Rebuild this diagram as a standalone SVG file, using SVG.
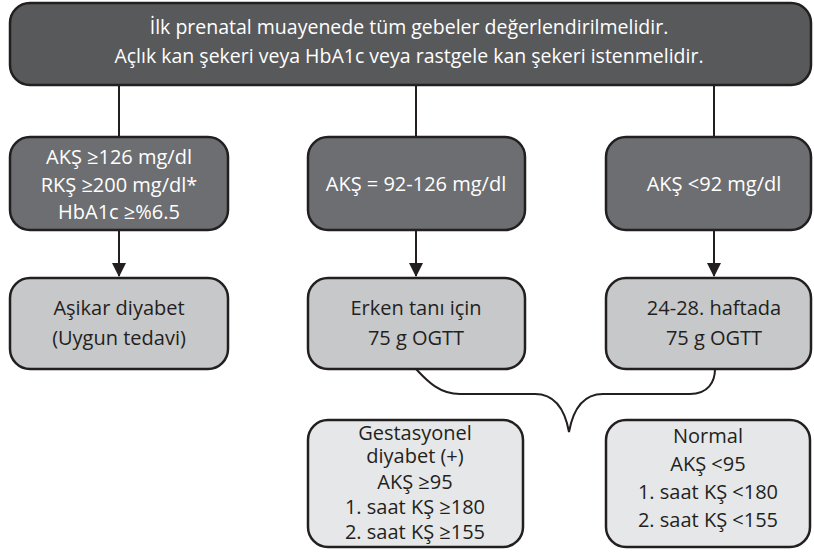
<svg xmlns="http://www.w3.org/2000/svg" width="814" height="560" viewBox="0 0 814 560">
<defs>
<style>
.box{stroke:#231f20;stroke-width:2.5}
.top{fill:#58595b}
.dark{fill:#6d6e71}
.mid{fill:#c7c8ca}
.light{fill:#e6e7e8}
text{font-family:"Open Sans","Noto Sans","Liberation Sans",sans-serif;font-size:20px;text-anchor:middle}
.t{font-size:19.5px}
.w{fill:#ffffff}
.b{fill:#231f20}
.ln{stroke:#231f20;stroke-width:2;fill:none}
</style>
<marker id="ah" viewBox="0 0 14 14" refX="13" refY="7" markerWidth="14" markerHeight="14" markerUnits="userSpaceOnUse" orient="auto">
<path d="M0,0 L14,7 L0,14 Z" fill="#231f20"/>
</marker>
</defs>
<rect width="814" height="560" fill="#ffffff"/>
<g id="connectors">
<line class="ln" x1="119" y1="85" x2="119" y2="137"/>
<line class="ln" x1="416" y1="85" x2="416" y2="137"/>
<line class="ln" x1="714" y1="85" x2="714" y2="137"/>
<line class="ln" x1="119" y1="230" x2="119" y2="276" marker-end="url(#ah)"/>
<line class="ln" x1="416" y1="230" x2="416" y2="276" marker-end="url(#ah)"/>
<line class="ln" x1="714" y1="230" x2="714" y2="276" marker-end="url(#ah)"/>
<path class="ln" stroke-width="2.5" d="M416,369 C428,382 440,394 460,394 L535,394 C555,394 565,410 569,432 C573,410 583,394 603,394 L690,394 C708,394 715,382 715,369"/>
</g>
<g id="n-top">
<rect class="box top" x="10" y="3" width="801" height="82" rx="20"/>
<text class="w t" x="409" y="34">İlk prenatal muayenede tüm gebeler değerlendirilmelidir.</text>
<text class="w t" x="409" y="63">Açlık kan şekeri veya HbA1c veya rastgele kan şekeri istenmelidir.</text>
</g>
<g id="n-aks126">
<rect class="box dark" x="10" y="137" width="218" height="93" rx="20"/>
<text class="w" x="119" y="164">AKŞ ≥126 mg/dl</text>
<text class="w" x="119" y="192">RKŞ ≥200 mg/dl*</text>
<text class="w" x="119" y="219">HbA1c ≥%6.5</text>
</g>
<g id="n-aks92126">
<rect class="box dark" x="308" y="137" width="217" height="93" rx="20"/>
<text class="w" x="416" y="191">AKŞ = 92-126 mg/dl</text>
</g>
<g id="n-aks92">
<rect class="box dark" x="606" y="137" width="205" height="93" rx="20"/>
<text class="w" x="714" y="191">AKŞ &lt;92 mg/dl</text>
</g>
<g id="n-asikar">
<rect class="box mid" x="10" y="278" width="218" height="91" rx="20"/>
<text class="b" x="119" y="315">Aşikar diyabet</text>
<text class="b" x="119" y="345">(Uygun tedavi)</text>
</g>
<g id="n-erken">
<rect class="box mid" x="308" y="278" width="217" height="91" rx="20"/>
<text class="b" x="416" y="315">Erken tanı için</text>
<text class="b" x="416" y="345">75 g OGTT</text>
</g>
<g id="n-haftada">
<rect class="box mid" x="606" y="278" width="205" height="91" rx="20"/>
<text class="b" x="714" y="315">24-28. haftada</text>
<text class="b" x="714" y="345">75 g OGTT</text>
</g>
<g id="n-gdm">
<rect class="box light" x="308" y="420" width="215" height="127" rx="20"/>
<text class="b" x="415" y="440">Gestasyonel</text>
<text class="b" x="415" y="463">diyabet (+)</text>
<text class="b" x="415" y="489">AKŞ ≥95</text>
<text class="b" x="415" y="514">1. saat KŞ ≥180</text>
<text class="b" x="415" y="539">2. saat KŞ ≥155</text>
</g>
<g id="n-normal">
<rect class="box light" x="606" y="420" width="204" height="127" rx="20"/>
<text class="b" x="708" y="443">Normal</text>
<text class="b" x="708" y="471">AKŞ &lt;95</text>
<text class="b" x="708" y="499">1. saat KŞ &lt;180</text>
<text class="b" x="708" y="527">2. saat KŞ &lt;155</text>
</g>
</svg>
